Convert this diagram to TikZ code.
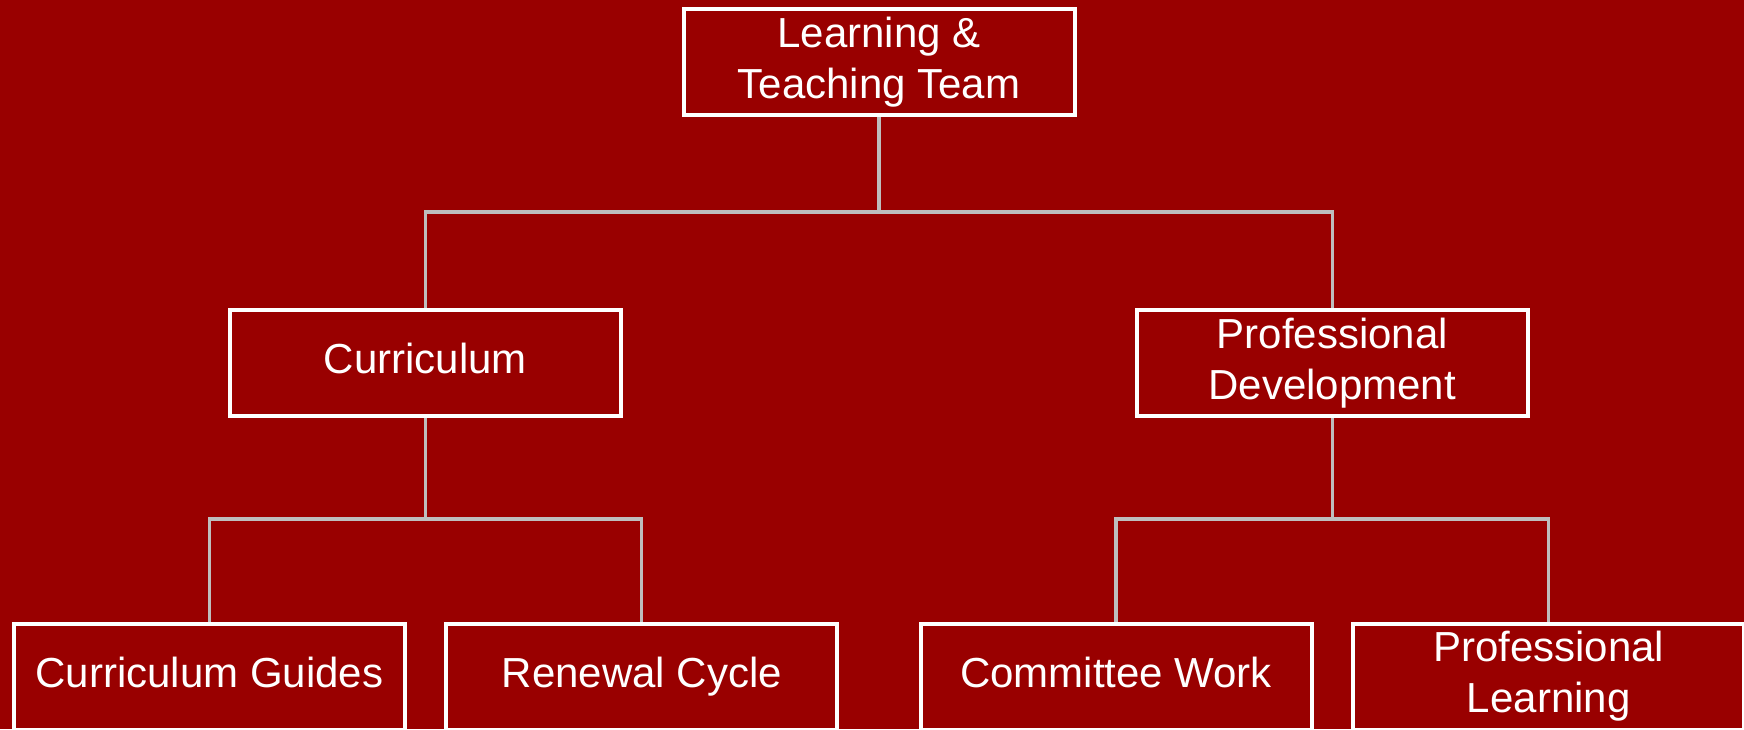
\documentclass[tikz,border=0pt]{standalone}
\usepackage{fontspec}
\setmainfont{Liberation Sans}
\definecolor{bgred}{HTML}{990000}
\definecolor{linkgray}{HTML}{BEBEBE}
\newcommand\lnstrut{\rule[-5pt]{0pt}{20.5pt}}
\begin{document}
\begin{tikzpicture}[x=0.5pt,y=-0.5pt,
  orgbox/.style={draw=white, line width=2pt, fill=bgred, text=white,
    minimum width=195.5pt, minimum height=53pt, inner sep=0pt,
    align=center, font=\fontsize{21}{25.5}\selectfont},
  link/.style={draw=linkgray, line width=1.6pt}]
\fill[bgred] (0,0) rectangle (1744,729);
\useasboundingbox (0,0) rectangle (1744,729);
\node[orgbox] (top) at (879,62) {\lnstrut Learning \&\\\lnstrut Teaching Team};
\node[orgbox] (cur) at (425.3,363) {\lnstrut Curriculum};
\node[orgbox] (pd) at (1332.2,363) {\lnstrut Professional\\\lnstrut Development};
\node[orgbox] (cg) at (209.3,676.7) {\lnstrut Curriculum Guides};
\node[orgbox] (rc) at (641.8,676.7) {\lnstrut Renewal Cycle};
\node[orgbox] (cw) at (1116,676.7) {\lnstrut Committee Work};
\node[orgbox] (pl) at (1548.7,676.7) {\lnstrut Professional\\\lnstrut Learning};
\coordinate (j1) at (879,212);
\coordinate (j2) at (425.3,519);
\coordinate (j3) at (1332.2,519);
\draw[link] (top.south) -- (j1);
\draw[link] (j1) -| (cur.north);
\draw[link] (j1) -| (pd.north);
\draw[link] (cur.south) -- (j2);
\draw[link] (j2) -| (cg.north);
\draw[link] (j2) -| (rc.north);
\draw[link] (pd.south) -- (j3);
\draw[link] (j3) -| (cw.north);
\draw[link] (j3) -| (pl.north);
\end{tikzpicture}
\end{document}
